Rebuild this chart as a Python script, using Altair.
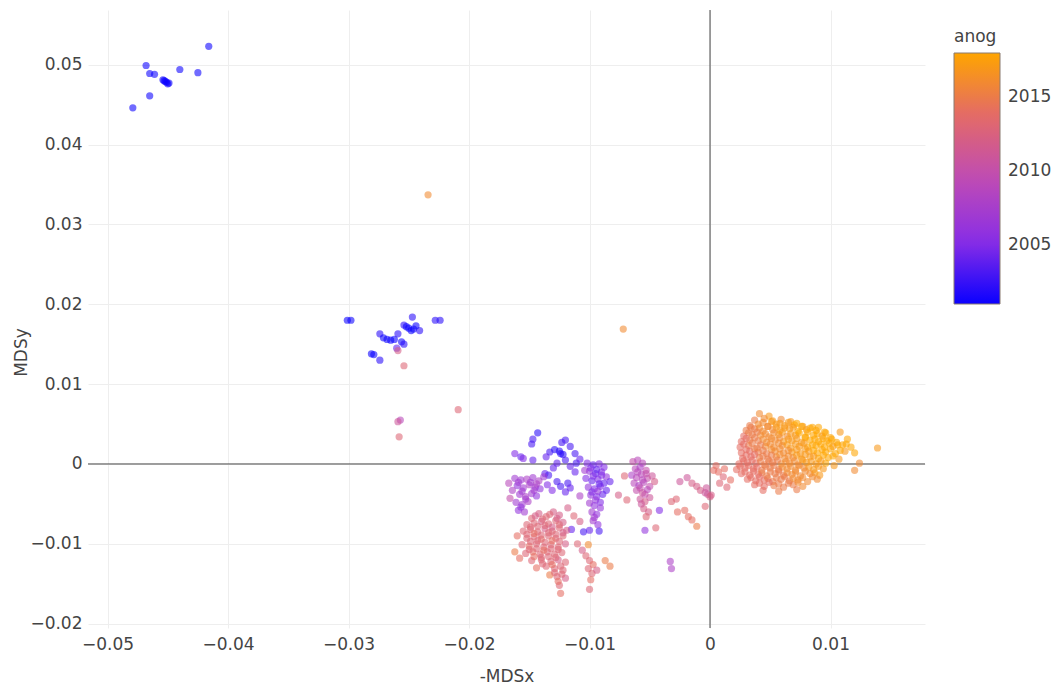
import altair as alt
import pandas as pd

# ---------------- data ----------------
# top-left blue group
TL_X = [-0.0416, -0.0468, -0.0465, -0.0461, -0.0454, -0.0452, -0.0451, -0.0449, -0.0453, -0.0450, -0.0440, -0.0425, -0.0465, -0.0479]
TL_Y = [0.0523, 0.0499, 0.0489, 0.0488, 0.0481, 0.0479, 0.0478, 0.0477, 0.0480, 0.0476, 0.0494, 0.0490, 0.0461, 0.0446]
TL_YR = [2001, 2001, 2001, 2001, 2001, 2001, 2001, 2001, 2001, 2001, 2001, 2001, 2001, 2001]

# blue group near (-0.027, 0.016) and stragglers below it
BG_X = [-0.0301, -0.0298, -0.0247, -0.0254, -0.0250, -0.0252, -0.0248, -0.0246, -0.0241, -0.0244, -0.0228, -0.0224,
        -0.0274, -0.0271, -0.0268, -0.0265, -0.0262, -0.0259, -0.0256, -0.0254, -0.0281, -0.0279, -0.0274,
        -0.0260, -0.0259, -0.0254, -0.0257, -0.0259, -0.0258, -0.0209, -0.0234, -0.0072]
BG_Y = [0.0180, 0.0180, 0.0184, 0.0174, 0.0170, 0.0172, 0.0167, 0.0169, 0.0167, 0.0173, 0.0180, 0.0180,
        0.0163, 0.0158, 0.0156, 0.0155, 0.0156, 0.0163, 0.0153, 0.0150, 0.0138, 0.0137, 0.0130,
        0.0145, 0.0142, 0.0123, 0.0055, 0.0053, 0.0034, 0.0068, 0.0337, 0.0169]
BG_YR = [2001, 2001, 2002, 2002, 2001, 2001, 2001, 2001, 2002, 2001, 2002, 2002,
         2002, 2001, 2001, 2001, 2001, 2002, 2001, 2002, 2001, 2001, 2002,
         2004, 2012, 2013, 2009, 2011, 2013, 2013, 2016, 2016]

# blue / violet group around (-0.013, 0.001)
BV_X = [-0.0143, -0.0147, -0.0148, -0.0133, -0.0129, -0.0124, -0.0125, -0.0122, -0.0123, -0.0120, -0.0116, -0.0112,
        -0.0111, -0.0116, -0.0120, -0.0127, -0.0136, -0.0137, -0.0134, -0.0127, -0.0124, -0.0118, -0.0116, -0.0120,
        -0.0162, -0.0157, -0.0155, -0.0147, -0.0130, -0.0112, -0.0108]
BV_Y = [0.0039, 0.0031, 0.0025, 0.0015, 0.0018, 0.0013, 0.0016, 0.0012, 0.0027, 0.0030, 0.0022, 0.0013,
        0.0001, -0.0003, 0.0005, 0.0001, 0.0009, -0.0012, -0.0014, -0.0022, -0.0028, -0.0024, -0.0030, -0.0035,
        0.0013, 0.0009, 0.0007, 0.0005, -0.0005, -0.0010, 0.0006]
BV_YR = [2002, 2003, 2003, 2003, 2002, 2002, 2002, 2002, 2003, 2003, 2003, 2003,
         2003, 2004, 2003, 2004, 2004, 2004, 2003, 2003, 2003, 2003, 2004, 2004,
         2005, 2004, 2005, 2004, 2004, 2004, 2004]

# magenta group on the left, below the zero line
MG_X = [-0.0162, -0.0157, -0.0152, -0.0147, -0.0142, -0.0138, -0.0160, -0.0155, -0.0150, -0.0145, -0.0141,
        -0.0158, -0.0153, -0.0148, -0.0144, -0.0161, -0.0156, -0.0151, -0.0159, -0.0154, -0.0164, -0.0167,
        -0.0135, -0.0131, -0.0166,
        -0.0159, -0.0149, -0.0144, -0.0156, -0.0146, -0.0153, -0.0157]
MG_Y = [-0.0018, -0.0020, -0.0019, -0.0017, -0.0021, -0.0016, -0.0027, -0.0030, -0.0026, -0.0029, -0.0031,
        -0.0038, -0.0041, -0.0037, -0.0040, -0.0048, -0.0051, -0.0047, -0.0058, -0.0060, -0.0033, -0.0024,
        -0.0026, -0.0033, -0.0043,
        -0.0023, -0.0023, -0.0025, -0.0034, -0.0033, -0.0044, -0.0054]
MG_YR = [2007, 2007, 2008, 2007, 2008, 2007, 2006, 2007, 2008, 2007, 2006,
         2007, 2008, 2007, 2006, 2007, 2007, 2008, 2006, 2007, 2008, 2009,
         2005, 2005, 2010,
         2007, 2007, 2008, 2007, 2007, 2007, 2006]

# violet column near x = -0.0095
VC_X = [-0.0102, -0.0097, -0.0092, -0.0088, -0.0100, -0.0095, -0.0090, -0.0086, -0.0103, -0.0098, -0.0093, -0.0088,
        -0.0101, -0.0096, -0.0091, -0.0086, -0.0099, -0.0094, -0.0089, -0.0100, -0.0096, -0.0091, -0.0098, -0.0094,
        -0.0097, -0.0093, -0.0100, -0.0092, -0.0104, -0.0108, -0.0083, -0.0115, -0.0105,
        -0.0099, -0.0094, -0.0090, -0.0097, -0.0092, -0.0098, -0.0093, -0.0095, -0.0091, -0.0096]
VC_Y = [0.0001, -0.0001, 0.0000, -0.0004, -0.0009, -0.0012, -0.0010, -0.0016, -0.0018, -0.0021, -0.0019, -0.0024,
        -0.0029, -0.0031, -0.0028, -0.0033, -0.0039, -0.0041, -0.0038, -0.0049, -0.0052, -0.0048, -0.0060, -0.0063,
        -0.0071, -0.0076, -0.0083, -0.0084, -0.0008, -0.0040, -0.0022, -0.0082, -0.0085,
        -0.0005, -0.0007, -0.0014, -0.0015, -0.0025, -0.0035, -0.0034, -0.0045, -0.0055, -0.0067]
VC_YR = [2005, 2004, 2005, 2005, 2006, 2004, 2005, 2006, 2005, 2004, 2005, 2004,
         2006, 2005, 2005, 2004, 2006, 2005, 2004, 2007, 2006, 2005, 2007, 2006,
         2007, 2006, 2004, 2003, 2007, 2008, 2004, 2004, 2003,
         2005, 2004, 2005, 2005, 2004, 2005, 2006, 2006, 2006, 2007]

# salmon group low on the left
SL_X = [-0.0148, -0.0142, -0.0136, -0.0130, -0.0125, -0.0152, -0.0146, -0.0140, -0.0134, -0.0128, -0.0122,
        -0.0155, -0.0149, -0.0143, -0.0137, -0.0131, -0.0125, -0.0119, -0.0152, -0.0146, -0.0140, -0.0134,
        -0.0128, -0.0122, -0.0156, -0.0150, -0.0144, -0.0138, -0.0132, -0.0126, -0.0120, -0.0153, -0.0147,
        -0.0141, -0.0135, -0.0129, -0.0123, -0.0158, -0.0148, -0.0140, -0.0132, -0.0126, -0.0120, -0.0144,
        -0.0136, -0.0129, -0.0122, -0.0127, -0.0120, -0.0125, -0.0124, -0.0133, -0.0160, -0.0162,
        -0.0110, -0.0106, -0.0103, -0.0100, -0.0097, -0.0101, -0.0098, -0.0094, -0.0099, -0.0100, -0.0083,
        -0.0087, -0.0101, -0.0118, -0.0113, -0.0108]
SL_Y = [-0.0068, -0.0062, -0.0066, -0.0060, -0.0064, -0.0076, -0.0074, -0.0072, -0.0075, -0.0071, -0.0073,
        -0.0084, -0.0082, -0.0085, -0.0081, -0.0084, -0.0080, -0.0083, -0.0093, -0.0091, -0.0094, -0.0090,
        -0.0093, -0.0090, -0.0101, -0.0103, -0.0100, -0.0104, -0.0101, -0.0104, -0.0100, -0.0112, -0.0110,
        -0.0113, -0.0110, -0.0113, -0.0111, -0.0118, -0.0121, -0.0120, -0.0122, -0.0120, -0.0123, -0.0130,
        -0.0128, -0.0131, -0.0133, -0.0141, -0.0143, -0.0152, -0.0162, -0.0139, -0.0090, -0.0110,
        -0.0100, -0.0108, -0.0115, -0.0121, -0.0126, -0.0131, -0.0137, -0.0133, -0.0145, -0.0157, -0.0128,
        -0.0121, -0.0101, -0.0055, -0.0065, -0.0072]
SL_YR = [2013, 2012, 2013, 2012, 2012, 2013, 2013, 2012, 2013, 2013, 2012,
         2013, 2013, 2013, 2012, 2013, 2013, 2012, 2013, 2013, 2014, 2013,
         2013, 2013, 2013, 2014, 2013, 2013, 2013, 2013, 2012, 2013, 2014,
         2013, 2013, 2013, 2013, 2014, 2013, 2013, 2013, 2012, 2013, 2014,
         2013, 2013, 2013, 2013, 2012, 2013, 2014, 2015, 2014, 2015,
         2013, 2012, 2013, 2013, 2014, 2013, 2013, 2012, 2014, 2013, 2015,
         2015, 2016, 2012, 2013, 2012]

# salmon group, filling points in its dense core
SC_X = [-0.0145, -0.0139, -0.0133, -0.0127,
        -0.0149, -0.0143, -0.0137, -0.0131, -0.0125,
        -0.0152, -0.0146, -0.0140, -0.0134, -0.0128, -0.0122,
        -0.0149, -0.0143, -0.0137, -0.0131, -0.0125,
        -0.0150, -0.0144, -0.0138, -0.0132, -0.0126,
        -0.0146, -0.0140, -0.0134, -0.0128,
        -0.0139, -0.0131, -0.0124,
        -0.0129, -0.0123, -0.0126]
SC_Y = [-0.0065, -0.0069, -0.0063, -0.0068,
        -0.0079, -0.0078, -0.0077, -0.0079, -0.0076,
        -0.0088, -0.0087, -0.0089, -0.0086, -0.0088, -0.0086,
        -0.0097, -0.0096, -0.0098, -0.0096, -0.0097,
        -0.0107, -0.0106, -0.0108, -0.0106, -0.0107,
        -0.0116, -0.0117, -0.0116, -0.0117,
        -0.0125, -0.0126, -0.0128,
        -0.0136, -0.0138, -0.0147]
SC_YR = [2012, 2013, 2013, 2012,
         2013, 2013, 2013, 2012, 2013,
         2013, 2014, 2013, 2013, 2013, 2012,
         2013, 2013, 2013, 2014, 2013,
         2013, 2013, 2014, 2013, 2013,
         2014, 2013, 2013, 2013,
         2013, 2014, 2013,
         2013, 2013, 2014]

# magenta group near x = -0.0057
MC_X = [-0.0064, -0.0060, -0.0056, -0.0062, -0.0058, -0.0053, -0.0065, -0.0061, -0.0057, -0.0052, -0.0048,
        -0.0063, -0.0059, -0.0055, -0.0050, -0.0061, -0.0056, -0.0052, -0.0058, -0.0054, -0.0050, -0.0055,
        -0.0051, -0.0053, -0.0054, -0.0042, -0.0045, -0.0076, -0.0069, -0.0071, -0.0046, -0.0033, -0.0032,
        -0.0060, -0.0056, -0.0058, -0.0054, -0.0057, -0.0053]
MC_Y = [0.0003, 0.0005, 0.0001, -0.0006, -0.0004, -0.0008, -0.0014, -0.0017, -0.0013, -0.0018, -0.0015,
        -0.0024, -0.0027, -0.0023, -0.0028, -0.0033, -0.0036, -0.0032, -0.0044, -0.0047, -0.0042, -0.0056,
        -0.0060, -0.0066, -0.0083, -0.0058, -0.0080, -0.0039, -0.0045, -0.0015, -0.0022, -0.0122, -0.0131,
        -0.0010, -0.0020, -0.0030, -0.0038, -0.0050, -0.0012]
MC_YR = [2010, 2009, 2009, 2009, 2008, 2010, 2008, 2009, 2009, 2010, 2011,
         2009, 2008, 2009, 2010, 2010, 2011, 2009, 2011, 2012, 2011, 2012,
         2012, 2013, 2006, 2005, 2013, 2012, 2013, 2013, 2012, 2008, 2008,
         2009, 2009, 2010, 2010, 2011, 2010]

# pink bridge between the groups and the orange cloud
PB_X = [-0.0025, -0.0019, -0.0015, -0.0011, -0.0008, -0.0004, -0.0002, 0.0000, -0.0032, -0.0028, -0.0027,
        -0.0021, -0.0018, -0.0015, -0.0011, -0.0004, 0.0003, 0.0007, 0.0011, 0.0017, -0.0003, 0.0001,
        0.0008, 0.0014, 0.0005, 0.0012]
PB_Y = [-0.0022, -0.0017, -0.0024, -0.0028, -0.0033, -0.0036, -0.0038, -0.0041, -0.0047, -0.0044, -0.0060,
        -0.0058, -0.0066, -0.0070, -0.0078, -0.0053, -0.0008, -0.0010, -0.0016, -0.0020, -0.0030, -0.0039,
        -0.0024, -0.0029, -0.0002, -0.0006]
PB_YR = [2011, 2011, 2012, 2012, 2012, 2011, 2011, 2012, 2013, 2013, 2014,
         2014, 2014, 2014, 2015, 2013, 2014, 2014, 2013, 2014, 2011, 2012,
         2013, 2013, 2014, 2014]

# orange cloud, upper half
OU_X = [0.0041, 0.0049,
        0.0037, 0.0045, 0.0052, 0.0059, 0.0067,
        0.0033, 0.0040, 0.0048, 0.0055, 0.0062, 0.0070, 0.0077, 0.0085,
        0.0030, 0.0037, 0.0044, 0.0052, 0.0058, 0.0066, 0.0073, 0.0080, 0.0088, 0.0095,
        0.0028, 0.0035, 0.0042, 0.0049, 0.0057, 0.0064, 0.0071, 0.0079, 0.0086, 0.0093, 0.0100,
        0.0026, 0.0033, 0.0040, 0.0047, 0.0054, 0.0061, 0.0068, 0.0076, 0.0083, 0.0090, 0.0097, 0.0105,
        0.0025, 0.0032, 0.0039, 0.0046, 0.0053, 0.0060, 0.0067, 0.0074, 0.0081, 0.0088, 0.0095, 0.0102, 0.0110, 0.0117]
OU_Y = [0.0063, 0.0060,
        0.0055, 0.0057, 0.0054, 0.0056, 0.0053,
        0.0048, 0.0050, 0.0047, 0.0050, 0.0048, 0.0049, 0.0047, 0.0046,
        0.0042, 0.0044, 0.0041, 0.0043, 0.0042, 0.0044, 0.0041, 0.0043, 0.0042, 0.0040,
        0.0035, 0.0037, 0.0036, 0.0034, 0.0037, 0.0035, 0.0036, 0.0034, 0.0036, 0.0035, 0.0033,
        0.0028, 0.0030, 0.0029, 0.0027, 0.0030, 0.0028, 0.0029, 0.0027, 0.0030, 0.0028, 0.0029, 0.0027,
        0.0021, 0.0023, 0.0020, 0.0022, 0.0021, 0.0023, 0.0020, 0.0022, 0.0021, 0.0023, 0.0021, 0.0022, 0.0024, 0.0021]
OU_YR = [2016, 2017,
         2015, 2016, 2017, 2016, 2017,
         2015, 2016, 2016, 2017, 2017, 2018, 2017, 2018,
         2015, 2015, 2016, 2016, 2017, 2017, 2018, 2017, 2018, 2018,
         2014, 2015, 2016, 2016, 2017, 2016, 2017, 2018, 2018, 2017, 2018,
         2014, 2015, 2015, 2016, 2016, 2017, 2017, 2017, 2018, 2018, 2018, 2018,
         2014, 2015, 2015, 2016, 2016, 2016, 2017, 2017, 2018, 2018, 2018, 2017, 2018, 2018]

# orange cloud, lower half and right-hand outliers
OL_X = [0.0026, 0.0033, 0.0040, 0.0047, 0.0054, 0.0061, 0.0068, 0.0075, 0.0082, 0.0089, 0.0096, 0.0104, 0.0112, 0.0120,
        0.0027, 0.0034, 0.0041, 0.0048, 0.0055, 0.0062, 0.0069, 0.0076, 0.0083, 0.0090, 0.0098, 0.0107,
        0.0024, 0.0031, 0.0038, 0.0045, 0.0052, 0.0059, 0.0066, 0.0073, 0.0080, 0.0088, 0.0096, 0.0103,
        0.0022, 0.0029, 0.0036, 0.0043, 0.0050, 0.0057, 0.0064, 0.0071, 0.0078, 0.0086, 0.0094,
        0.0026, 0.0033, 0.0040, 0.0047, 0.0054, 0.0061, 0.0068, 0.0075, 0.0083, 0.0091,
        0.0031, 0.0038, 0.0045, 0.0052, 0.0059, 0.0066, 0.0073, 0.0081, 0.0089,
        0.0037, 0.0045, 0.0053, 0.0061, 0.0069, 0.0077,
        0.0044, 0.0057, 0.0072,
        0.0139, 0.0124, 0.0120, 0.0108, 0.0114]
OL_Y = [0.0014, 0.0016, 0.0015, 0.0013, 0.0016, 0.0014, 0.0015, 0.0013, 0.0016, 0.0014, 0.0015, 0.0013, 0.0016, 0.0014,
        0.0007, 0.0009, 0.0008, 0.0006, 0.0009, 0.0007, 0.0008, 0.0006, 0.0009, 0.0007, 0.0008, 0.0006,
        0.0000, 0.0002, 0.0001, -0.0001, 0.0002, 0.0000, 0.0001, -0.0001, 0.0002, 0.0000, 0.0001, -0.0002,
        -0.0007, -0.0005, -0.0006, -0.0008, -0.0005, -0.0007, -0.0006, -0.0008, -0.0005, -0.0007, -0.0006,
        -0.0012, -0.0014, -0.0013, -0.0015, -0.0012, -0.0014, -0.0013, -0.0015, -0.0012, -0.0014,
        -0.0019, -0.0021, -0.0020, -0.0022, -0.0019, -0.0021, -0.0020, -0.0022, -0.0019,
        -0.0026, -0.0028, -0.0027, -0.0029, -0.0026, -0.0028,
        -0.0033, -0.0034, -0.0032,
        0.0020, 0.0001, -0.0008, 0.0040, 0.0031]
OL_YR = [2014, 2014, 2015, 2015, 2016, 2016, 2017, 2017, 2017, 2018, 2018, 2018, 2017, 2018,
         2014, 2014, 2015, 2015, 2016, 2016, 2016, 2017, 2017, 2018, 2018, 2017,
         2014, 2014, 2014, 2015, 2015, 2016, 2016, 2016, 2017, 2017, 2018, 2017,
         2014, 2014, 2014, 2015, 2015, 2015, 2016, 2016, 2016, 2017, 2017,
         2014, 2014, 2014, 2015, 2015, 2015, 2016, 2016, 2016, 2017,
         2014, 2014, 2014, 2015, 2015, 2015, 2016, 2016, 2016,
         2014, 2014, 2015, 2015, 2015, 2016,
         2014, 2015, 2015,
         2017, 2016, 2016, 2017, 2018]

# orange cloud, points filling its dense core
OC_X = [0.0044, 0.0051, 0.0058, 0.0065, 0.0072,
        0.0034, 0.0041, 0.0048, 0.0055, 0.0062, 0.0069, 0.0076, 0.0083, 0.0090,
        0.0032, 0.0039, 0.0046, 0.0053, 0.0060, 0.0067, 0.0074, 0.0081, 0.0089, 0.0096,
        0.0030, 0.0037, 0.0044, 0.0051, 0.0058, 0.0065, 0.0072, 0.0079, 0.0087, 0.0094, 0.0101,
        0.0028, 0.0035, 0.0042, 0.0050, 0.0057, 0.0064, 0.0071, 0.0078, 0.0085, 0.0092, 0.0099, 0.0106, 0.0113,
        0.0030, 0.0037, 0.0044, 0.0051, 0.0058, 0.0065, 0.0072, 0.0079, 0.0086, 0.0093, 0.0100, 0.0108,
        0.0030, 0.0037, 0.0044, 0.0051, 0.0058, 0.0065, 0.0072, 0.0079, 0.0086, 0.0094, 0.0102,
        0.0028, 0.0035, 0.0042, 0.0049, 0.0056, 0.0063, 0.0070, 0.0077, 0.0084, 0.0092,
        0.0025, 0.0032, 0.0039, 0.0046, 0.0053, 0.0060, 0.0067, 0.0074, 0.0082, 0.0090,
        0.0029, 0.0036, 0.0043, 0.0050, 0.0057, 0.0064, 0.0071, 0.0079, 0.0087,
        0.0034, 0.0041, 0.0048, 0.0055, 0.0062, 0.0069, 0.0077, 0.0085,
        0.0041, 0.0049, 0.0057, 0.0065, 0.0073]
OC_Y = [0.0052, 0.0053, 0.0051, 0.0052, 0.0051,
        0.0046, 0.0045, 0.0047, 0.0046, 0.0045, 0.0046, 0.0047, 0.0045, 0.0046,
        0.0039, 0.0040, 0.0038, 0.0039, 0.0040, 0.0038, 0.0039, 0.0040, 0.0038, 0.0039,
        0.0032, 0.0033, 0.0031, 0.0032, 0.0033, 0.0031, 0.0032, 0.0033, 0.0031, 0.0032, 0.0031,
        0.0025, 0.0026, 0.0024, 0.0025, 0.0026, 0.0024, 0.0025, 0.0026, 0.0024, 0.0025, 0.0026, 0.0024, 0.0025,
        0.0018, 0.0019, 0.0017, 0.0018, 0.0019, 0.0017, 0.0018, 0.0019, 0.0017, 0.0018, 0.0019, 0.0017,
        0.0011, 0.0012, 0.0010, 0.0011, 0.0012, 0.0010, 0.0011, 0.0012, 0.0010, 0.0011, 0.0010,
        0.0004, 0.0005, 0.0003, 0.0004, 0.0005, 0.0003, 0.0004, 0.0005, 0.0003, 0.0004,
        -0.0003, -0.0002, -0.0004, -0.0003, -0.0002, -0.0004, -0.0003, -0.0002, -0.0004, -0.0003,
        -0.0010, -0.0009, -0.0011, -0.0010, -0.0009, -0.0011, -0.0010, -0.0009, -0.0011,
        -0.0017, -0.0016, -0.0018, -0.0017, -0.0016, -0.0018, -0.0017, -0.0016,
        -0.0024, -0.0023, -0.0025, -0.0024, -0.0023]
OC_YR = [2016, 2017, 2017, 2017, 2018,
         2015, 2016, 2016, 2017, 2017, 2017, 2018, 2018, 2018,
         2015, 2015, 2016, 2016, 2017, 2017, 2018, 2018, 2018, 2018,
         2014, 2015, 2016, 2016, 2016, 2017, 2017, 2018, 2018, 2018, 2018,
         2014, 2015, 2015, 2016, 2016, 2017, 2017, 2017, 2018, 2018, 2018, 2018, 2018,
         2014, 2015, 2015, 2016, 2016, 2016, 2017, 2017, 2018, 2018, 2018, 2018,
         2014, 2014, 2015, 2015, 2016, 2016, 2017, 2017, 2017, 2018, 2018,
         2014, 2014, 2015, 2015, 2015, 2016, 2016, 2017, 2017, 2017,
         2014, 2014, 2014, 2015, 2015, 2016, 2016, 2016, 2017, 2017,
         2014, 2014, 2015, 2015, 2015, 2016, 2016, 2016, 2017,
         2014, 2014, 2015, 2015, 2015, 2016, 2016, 2016,
         2014, 2014, 2015, 2015, 2016]

X_TICKS = [-0.05, -0.04, -0.03, -0.02, -0.01, 0, 0.01]
Y_TICKS = [-0.02, -0.01, 0, 0.01, 0.02, 0.03, 0.04, 0.05]
LEGEND_TICKS = [2005, 2010, 2015]
YEAR_DOMAIN = [2001, 2018]
COLOR_STOPS = ["#0a00ff", "#8a2ee6", "#bf4bb4", "#e36a68", "#ffa500"]

# ---------------- build table ----------------
xs_all = TL_X + BG_X + BV_X + MG_X + VC_X + SL_X + SC_X + MC_X + PB_X + OU_X + OL_X + OC_X
ys_all = TL_Y + BG_Y + BV_Y + MG_Y + VC_Y + SL_Y + SC_Y + MC_Y + PB_Y + OU_Y + OL_Y + OC_Y
yr_all = TL_YR + BG_YR + BV_YR + MG_YR + VC_YR + SL_YR + SC_YR + MC_YR + PB_YR + OU_YR + OL_YR + OC_YR
df = pd.DataFrame({"x": xs_all, "y": ys_all, "anog": yr_all})

W, H = 837, 618
FONT = "DejaVu Sans"
TXT = "#444"

xscale = alt.Scale(domain=[-0.05162, 0.01784], nice=False, zero=False)
yscale = alt.Scale(domain=[-0.02054, 0.05685], nice=False, zero=False)

X_AXIS = alt.Axis(values=X_TICKS, format=".2~f", title="-MDSx", grid=True,
                  gridColor="#eeeeee", domain=False, ticks=False, labelPadding=8,
                  titleY=48, titleBaseline="middle", titlePadding=0)
Y_AXIS = alt.Axis(values=Y_TICKS, format=".2~f", title="MDSy", grid=True,
                  gridColor="#eeeeee", domain=False, ticks=False, labelPadding=6,
                  titleX=-67, titleY=342, titleBaseline="middle", titleAngle=270)

zero_v = alt.Chart(pd.DataFrame({"z": [0.0]})).mark_rule(color=TXT, strokeWidth=1).encode(
    x=alt.X("z:Q", scale=xscale, axis=X_AXIS))
zero_h = alt.Chart(pd.DataFrame({"z": [0.0]})).mark_rule(color=TXT, strokeWidth=1).encode(
    y=alt.Y("z:Q", scale=yscale, axis=Y_AXIS))

points = alt.Chart(df).mark_circle(size=52, opacity=1, fillOpacity=0.58).encode(
    x=alt.X("x:Q", scale=xscale, axis=X_AXIS),
    y=alt.Y("y:Q", scale=yscale, axis=Y_AXIS),
    color=alt.Color("anog:Q",
                    scale=alt.Scale(domain=YEAR_DOMAIN, range=COLOR_STOPS, interpolate="rgb"),
                    legend=alt.Legend(orient="none", legendX=866, legendY=19, direction="vertical",
                                      gradientLength=251, gradientThickness=46,
                                      gradientStrokeColor="#8a7a70", gradientStrokeWidth=1,
                                      values=LEGEND_TICKS, format="d", title="anog",
                                      titlePadding=7, labelOffset=8)),
)

chart = alt.layer(zero_v, zero_h, points).properties(
    width=W, height=H,
    autosize=alt.AutoSizeParams(type="none"),
    padding={"left": 80, "top": 2, "right": 126, "bottom": 56},
).configure_axis(
    labelFont=FONT, labelFontSize=17, labelColor=TXT,
    titleFont=FONT, titleFontSize=17, titleColor=TXT, titleFontWeight="normal",
).configure_legend(
    labelFont=FONT, labelFontSize=17, labelColor=TXT,
    titleFont=FONT, titleFontSize=17, titleColor=TXT, titleFontWeight="normal",
).configure_view(stroke=None)

chart.save("out.html", embed_options={"renderer": "svg", "actions": False})
